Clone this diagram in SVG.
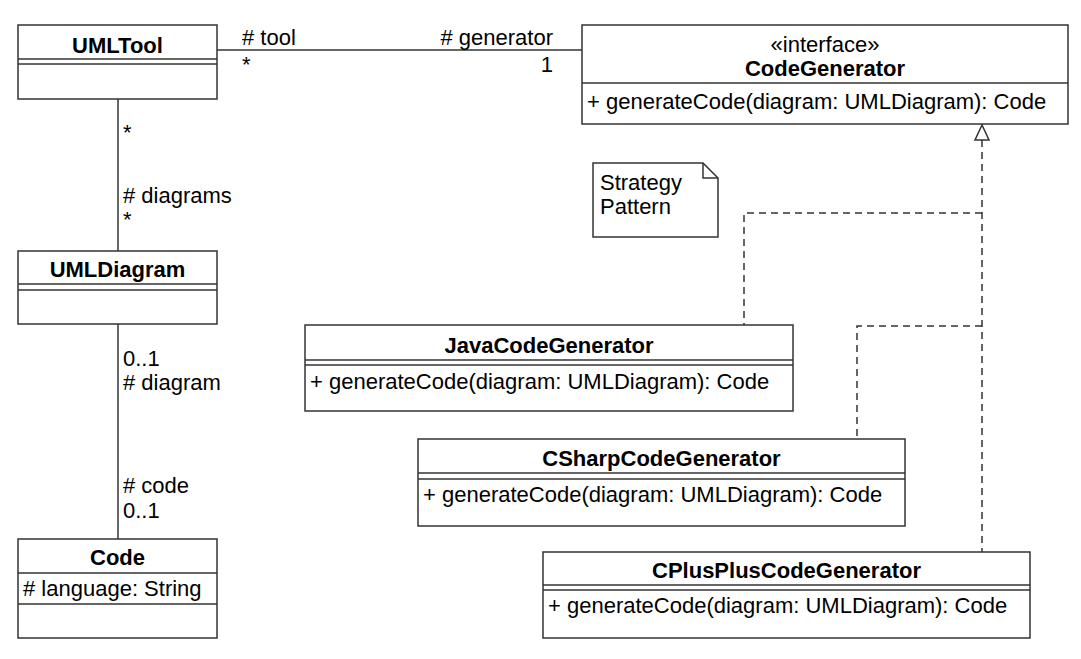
<svg xmlns="http://www.w3.org/2000/svg" width="1081" height="659" viewBox="0 0 1081 659">
<style>
text{font-family:"Liberation Sans",Arial,sans-serif;font-size:22px;fill:#000}
.b{font-weight:bold}
.m{text-anchor:middle}
.e{text-anchor:end}
.box{fill:#fff;stroke:#333;stroke-width:1.5}
.ln{fill:none;stroke:#333;stroke-width:1.5}
.dash{fill:none;stroke:#333;stroke-width:1.5;stroke-dasharray:7,5}
</style>
<rect width="1081" height="659" fill="#fff"/>
<g id="connectors">
<line class="ln" x1="217" y1="50" x2="582" y2="50"/>
<line class="ln" x1="118" y1="99" x2="118" y2="251"/>
<line class="ln" x1="118" y1="324" x2="118" y2="539"/>
<polyline class="dash" points="982,140 982,552"/>
<polyline class="dash" points="982,213 744,213 744,325"/>
<polyline class="dash" points="982,326 857,326 857,439"/>
<polygon points="982,125 975,140 989,140" fill="#fff" stroke="#333" stroke-width="1.5"/>
<text x="242" y="45"># tool</text>
<text x="242" y="72">*</text>
<text class="e" x="553" y="45"># generator</text>
<text class="e" x="553" y="72">1</text>
<text x="123" y="140">*</text>
<text x="123" y="203"># diagrams</text>
<text x="123" y="227">*</text>
<text x="123" y="366">0..1</text>
<text x="123" y="390"># diagram</text>
<text x="123" y="493"># code</text>
<text x="123" y="518">0..1</text>
</g>
<g id="UMLTool">
<rect class="box" x="18" y="25" width="199" height="74"/>
<line class="ln" x1="18" y1="59" x2="217" y2="59"/>
<line class="ln" x1="18" y1="64" x2="217" y2="64"/>
<text class="b m" x="117.5" y="53">UMLTool</text>
</g>
<g id="CodeGenerator">
<rect class="box" x="582" y="25" width="486" height="99"/>
<line class="ln" x1="582" y1="83" x2="1068" y2="83"/>
<text class="m" x="825" y="52">«interface»</text>
<text class="b m" x="825" y="76">CodeGenerator</text>
<text x="587" y="109">+ generateCode(diagram: UMLDiagram): Code</text>
</g>
<g id="StrategyNote">
<polygon class="box" points="593,163 703,163 718,178 718,237 593,237"/>
<polyline class="ln" points="703,163 703,178 718,178"/>
<text x="600" y="190">Strategy</text>
<text x="600" y="214">Pattern</text>
</g>
<g id="UMLDiagram">
<rect class="box" x="18" y="251" width="199" height="73"/>
<line class="ln" x1="18" y1="284" x2="217" y2="284"/>
<line class="ln" x1="18" y1="290" x2="217" y2="290"/>
<text class="b m" x="117.5" y="277">UMLDiagram</text>
</g>
<g id="Code">
<rect class="box" x="18" y="539" width="199" height="99"/>
<line class="ln" x1="18" y1="573" x2="217" y2="573"/>
<line class="ln" x1="18" y1="604" x2="217" y2="604"/>
<text class="b m" x="117.5" y="565">Code</text>
<text x="23" y="596"># language: String</text>
</g>
<g id="JavaCodeGenerator">
<rect class="box" x="305" y="325" width="488" height="86"/>
<line class="ln" x1="305" y1="360" x2="793" y2="360"/>
<line class="ln" x1="305" y1="365" x2="793" y2="365"/>
<text class="b m" x="549" y="353">JavaCodeGenerator</text>
<text x="310" y="389">+ generateCode(diagram: UMLDiagram): Code</text>
</g>
<g id="CSharpCodeGenerator">
<rect class="box" x="418" y="439" width="487" height="87"/>
<line class="ln" x1="418" y1="473" x2="905" y2="473"/>
<line class="ln" x1="418" y1="479" x2="905" y2="479"/>
<text class="b m" x="661.5" y="466">CSharpCodeGenerator</text>
<text x="423" y="502">+ generateCode(diagram: UMLDiagram): Code</text>
</g>
<g id="CPlusPlusCodeGenerator">
<rect class="box" x="543" y="552" width="487" height="86"/>
<line class="ln" x1="543" y1="585" x2="1030" y2="585"/>
<line class="ln" x1="543" y1="590" x2="1030" y2="590"/>
<text class="b m" x="786.5" y="578">CPlusPlusCodeGenerator</text>
<text x="548" y="613">+ generateCode(diagram: UMLDiagram): Code</text>
</g>
</svg>
